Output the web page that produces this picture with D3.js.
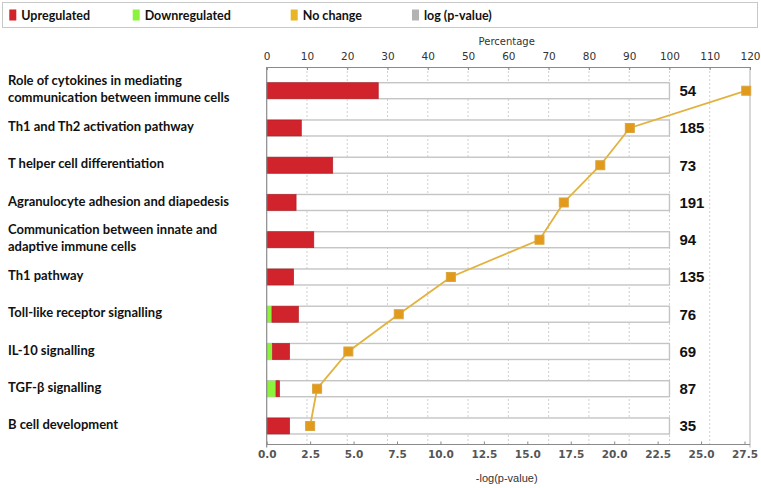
<!DOCTYPE html>
<html><head><meta charset="utf-8">
<script src="https://cdn.jsdelivr.net/npm/d3@7"></script>
<style>body{margin:0;background:#fff;}svg{display:block;}</style>
</head><body>
<svg id="chart" width="761" height="488"></svg>
<script>
const categories = [
  "Role of cytokines in mediating\ncommunication between immune cells",
  "Th1 and Th2 activation pathway",
  "T helper cell differentiation",
  "Agranulocyte adhesion and diapedesis",
  "Communication between innate and\nadaptive immune cells",
  "Th1 pathway",
  "Toll-like receptor signalling",
  "IL-10 signalling",
  "TGF-β signalling",
  "B cell development"
];
const upregulated   = [27.7, 8.6, 16.4, 7.3, 11.7, 6.7, 6.6, 4.3, 0.9, 5.7];
const downregulated = [0, 0, 0, 0, 0, 0, 1.3, 1.4, 2.3, 0];
const counts        = [54, 185, 73, 191, 94, 135, 76, 69, 87, 35];
const negLogP       = [27.6, 20.9, 19.2, 17.1, 15.7, 10.6, 7.6, 4.7, 2.9, 2.5];
const percentTicks  = [0,10,20,30,40,50,60,70,80,90,100,110,120];
const pValueTicks   = [0,2.5,5,7.5,10,12.5,15,17.5,20,22.5,25,27.5];
const legendItems   = ["Upregulated","Downregulated","No change","log (p-value)"];
const legendColors  = ["#d0232b","#8cf33c","#e7b526","#b3b3b3"];

const svg = d3.select("#chart");
const x = d3.scaleLinear().domain([0,120]).range([266.7,750]);
const xp = d3.scaleLinear().domain([0,27.5]).range([266.7,744.5]);
const y = d3.scaleBand().domain(categories).range([72.1,444.6]).padding(0);
const barH = 16;
const yc = d => y(d) + y.bandwidth()/2;
const yTop = 67, yBottom = 444.5;

// legend
svg.append("rect").attr("x",2.5).attr("y",2.5).attr("width",755).attr("height",25)
  .attr("fill","#fff").attr("stroke","#c8c8c8");
const legX = [9.3,132.7,290.7,412];
const lg = svg.append("g").selectAll("g").data(legendItems).join("g")
  .attr("transform",(d,i)=>`translate(${legX[i]},0)`);
lg.append("rect").attr("x",0).attr("y",9.5).attr("width",7).attr("height",11)
  .attr("fill",(d,i)=>legendColors[i]);
lg.append("text").attr("x",12).attr("y",19.8).text(d=>d)
  .attr("font-family","Lato").attr("font-weight","bold").attr("font-size",12.5).attr("fill","#111");

// gridlines
svg.append("g").selectAll("line").data(percentTicks.slice(1,-1)).join("line")
  .attr("x1",d=>x(d)).attr("x2",d=>x(d)).attr("y1",yTop).attr("y2",yBottom)
  .attr("stroke","#cfcfcf").attr("stroke-dasharray","2,2");

// frame
svg.append("line").attr("x1",x(120)).attr("x2",x(120)).attr("y1",yTop).attr("y2",yBottom+3)
  .attr("stroke","#bdbdbd").attr("stroke-width",1.2);

// top axis
const topAxis = d3.axisTop(x).tickValues(percentTicks).tickSize(-3).tickPadding(7).tickFormat(d3.format("d"));
const gt = svg.append("g").attr("transform",`translate(0,${yTop})`).call(topAxis);
gt.select(".domain").attr("stroke","#8a8a8a");
gt.selectAll(".tick line").attr("stroke","#8a8a8a");
gt.selectAll("text").attr("font-family","DejaVu Sans").attr("font-size",10.5).attr("fill","#333");
svg.append("text").attr("x",506.7).attr("y",45).attr("text-anchor","middle")
  .attr("font-family","DejaVu Sans").attr("font-size",10).attr("fill","#333").text("Percentage");

// bottom axis
const botAxis = d3.axisBottom(xp).tickValues(pValueTicks).tickSize(-3).tickPadding(6).tickFormat(d3.format(".1f"));
const gb = svg.append("g").attr("transform",`translate(0,${yBottom})`).call(botAxis);
gb.select(".domain").attr("stroke","#8a8a8a").attr("d",`M${x(0)},0H${x(120)}`);
gb.selectAll(".tick line").attr("stroke","#8a8a8a");
gb.selectAll("text").attr("font-family","DejaVu Sans").attr("font-size",10.5).attr("font-weight","bold").attr("fill","#555");
svg.append("text").attr("x",506.7).attr("y",482).attr("text-anchor","middle")
  .attr("font-family","Liberation Sans").attr("font-size",11).attr("fill","#333").text("-log(p-value)");

// boxes
const rows = svg.append("g").selectAll("g").data(categories).join("g");
rows.append("rect").attr("x",x(0)).attr("y",d=>yc(d)-barH/2).attr("width",x(100)-x(0)).attr("height",barH)
  .attr("fill","#fff").attr("stroke","#c4c4c4").attr("stroke-width",1.4);
rows.append("rect").attr("x",x(0)).attr("y",d=>yc(d)-barH/2)
  .attr("width",(d,i)=>x(downregulated[i])-x(0)).attr("height",barH).attr("fill",legendColors[1]);
rows.append("rect").attr("x",(d,i)=>x(downregulated[i])).attr("y",d=>yc(d)-barH/2)
  .attr("width",(d,i)=>x(downregulated[i]+upregulated[i])-x(downregulated[i])).attr("height",barH)
  .attr("fill",legendColors[0]).attr("stroke","#b01c22").attr("stroke-width",0.6);
rows.append("text").attr("x",x(100)+10).attr("y",d=>yc(d)).attr("dy","0.36em")
  .attr("font-family","Liberation Sans").attr("font-weight","bold").attr("font-size",15).attr("fill","#111")
  .text((d,i)=>counts[i]);

// left axis line
svg.append("line").attr("x1",x(0)).attr("x2",x(0)).attr("y1",yTop).attr("y2",yBottom+3)
  .attr("stroke","#8a8a8a").attr("stroke-width",1.2);

// category labels
const lab = svg.append("g").selectAll("text").data(categories).join("text")
  .attr("font-family","Lato").attr("font-weight","bold").attr("font-size",13).attr("fill","#111");
lab.each(function(d){
  const lines = d.split("\n");
  const t = d3.select(this);
  lines.forEach((ln,k)=>{
    t.append("tspan").attr("x",8)
     .attr("y",yc(d) - 1.5 + (k-(lines.length-1)/2)*17).attr("dy","0.35em").text(ln);
  });
});

// p-value line
const line = d3.line().x((d,i)=>xp(negLogP[i])).y(d=>yc(d));
svg.append("path").datum(categories).attr("d",line).attr("fill","none")
  .attr("stroke","#e2b23e").attr("stroke-width",1.8);
svg.append("g").selectAll("rect").data(categories).join("rect")
  .attr("x",(d,i)=>xp(negLogP[i])-4.5).attr("y",d=>yc(d)-4.5).attr("width",9).attr("height",9)
  .attr("fill","#e39a1b").attr("stroke","#d8a640").attr("stroke-width",1);
</script>
</body></html>
